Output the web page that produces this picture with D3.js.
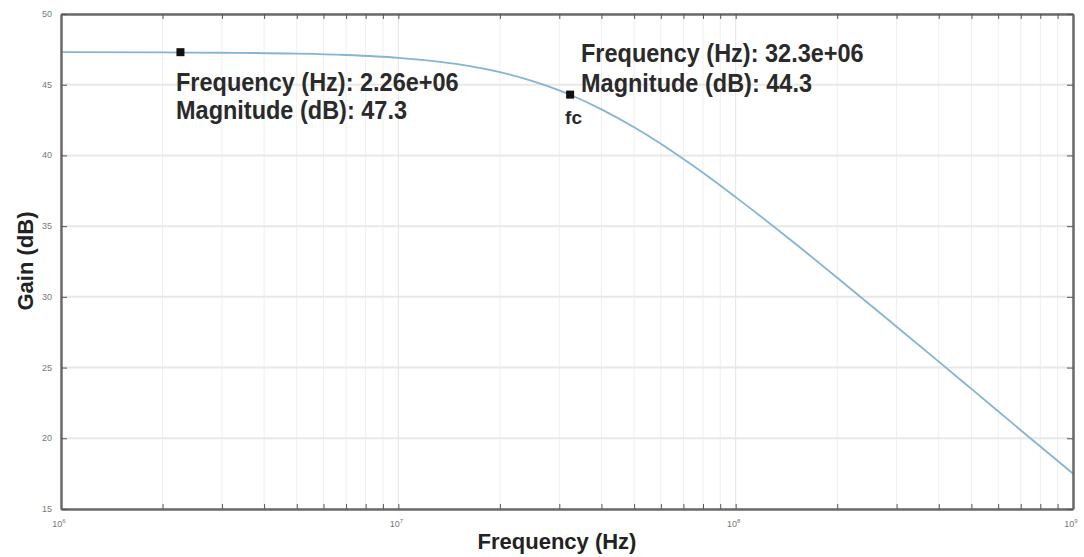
<!DOCTYPE html>
<html>
<head>
<meta charset="utf-8">
<script src="https://cdn.jsdelivr.net/npm/d3@7"></script>
<style>
  body { margin: 0; background: #fff; }
  svg text { font-family: "Liberation Sans", Arial, sans-serif; }
</style>
</head>
<body>
<div id="chart"></div>
<script>
// response (Hz, dB)
var freqs = [1e6, 2e6, 3e6, 5e6, 7e6, 1e7, 1.5e7, 2e7, 2.5e7, 3e7, 3.23e7, 4e7, 5e7, 6e7, 7e7, 8e7, 1e8, 1.5e8, 2e8, 3e8, 4e8, 5e8, 6e8, 7e8, 8e8, 1e9];
var gains = [47.3, 47.28, 47.26, 47.2, 47.1, 46.9, 46.45, 45.89, 45.26, 44.6, 44.29, 43.26, 41.99, 40.82, 39.74, 38.77, 37.05, 33.77, 31.35, 27.89, 25.42, 23.49, 21.91, 20.57, 19.42, 17.5];

var xTicks = [1e6, 1e7, 1e8, 1e9];
var xTickExps = ["6", "7", "8", "9"];
var yTicks = [15, 20, 25, 30, 35, 40, 45, 50];

var tipFreqs = [2.26e6, 32.3e6];
var tipGains = [47.3, 44.3];
var tipLines1 = ["Frequency (Hz): 2.26e+06", "Frequency (Hz): 32.3e+06"];
var tipLines2 = ["Magnitude (dB): 47.3", "Magnitude (dB): 44.3"];

var width = 1084, height = 557;
var margin = {left: 61, right: 11, top: 14, bottom: 48};

var svg = d3.select('#chart').append('svg')
    .attr('width', width)
    .attr('height', height);

var x = d3.scaleLog()
    .domain([1e6, 1e9])
    .range([margin.left, width - margin.right]);

var y = d3.scaleLinear()
    .domain([15, 50])
    .range([height - margin.bottom, margin.top]);

// minor x positions
var minor = [];
for (var d = 1e6; d < 1e9; d *= 10) {
	for (var k = 2; k <= 9; k++) minor.push(d * k);
}

var grid = svg.append('g');
grid.selectAll('line.vminor').data(minor)
    .enter().append('line')
    .attr('x1', function (d) { return x(d); })
    .attr('x2', function (d) { return x(d); })
    .attr('y1', y(15)).attr('y2', y(50))
    .style('stroke', '#efefef').style('stroke-width', 1);
grid.selectAll('line.vmajor').data(xTicks)
    .enter().append('line')
    .attr('x1', function (d) { return x(d); })
    .attr('x2', function (d) { return x(d); })
    .attr('y1', y(15)).attr('y2', y(50))
    .style('stroke', '#e4e4e4').style('stroke-width', 1);
grid.selectAll('line.hmajor').data(yTicks)
    .enter().append('line')
    .attr('x1', x(1e6)).attr('x2', x(1e9))
    .attr('y1', function (d) { return y(d); })
    .attr('y2', function (d) { return y(d); })
    .style('stroke', '#e8e8e8').style('stroke-width', 2);

// curve
var line = d3.line()
    .x(function (d, i) { return x(freqs[i]); })
    .y(function (d) { return y(d); })
    .curve(d3.curveMonotoneX);

svg.append('path')
    .datum(gains)
    .attr('d', line)
    .style('fill', 'none')
    .style('stroke', '#86b4d2')
    .style('stroke-width', 1.8);

// axes: ticks pointing inward, on all four sides
var axBottom = d3.axisBottom(x).tickValues(xTicks.concat(minor)).tickSizeInner(-5).tickSizeOuter(0)
    .tickFormat(function () { return ''; });
var axTop = d3.axisTop(x).tickValues(xTicks.concat(minor)).tickSizeInner(-5).tickSizeOuter(0)
    .tickFormat(function () { return ''; });
var axLeft = d3.axisLeft(y).tickValues(yTicks).tickSizeInner(-6).tickSizeOuter(0)
    .tickFormat(function () { return ''; });
var axRight = d3.axisRight(y).tickValues(yTicks).tickSizeInner(-6).tickSizeOuter(0)
    .tickFormat(function () { return ''; });

function styleAxis(g) {
	g.select('.domain').style('stroke', '#6a6a6a').style('stroke-width', 2.5);
	g.selectAll('.tick line').style('stroke', '#555');
}

svg.append('g').attr('transform', 'translate(0,' + y(15) + ')').call(axBottom).call(styleAxis);
svg.append('g').attr('transform', 'translate(0,' + y(50) + ')').call(axTop).call(styleAxis);
svg.append('g').attr('transform', 'translate(' + x(1e6) + ',0)').call(axLeft).call(styleAxis);
svg.append('g').attr('transform', 'translate(' + x(1e9) + ',0)').call(axRight).call(styleAxis);

// tick labels
svg.selectAll('text.ylab').data(yTicks)
    .enter().append('text')
    .attr('x', x(1e6) - 9)
    .attr('y', function (d) { return y(d) + 3; })
    .attr('text-anchor', 'end')
    .style('font-size', '9px')
    .style('fill', '#777')
    .text(function (d) { return d; });

var xl = svg.selectAll('text.xlab').data(xTicks)
    .enter().append('text')
    .attr('x', function (d) { return x(d) - 2; })
    .attr('y', y(15) + 18)
    .attr('text-anchor', 'middle')
    .style('font-size', '9px')
    .style('fill', '#777');
xl.append('tspan').text('10');
xl.append('tspan').attr('dy', -4).style('font-size', '6px')
    .text(function (d, i) { return xTickExps[i]; });

// axis titles
svg.append('text')
    .attr('x', 557)
    .attr('y', 549)
    .attr('text-anchor', 'middle')
    .style('font-size', '22px').style('font-weight', 'bold').style('fill', '#222')
    .text('Frequency (Hz)');

svg.append('text')
    .attr('transform', 'translate(33,261) rotate(-90)')
    .attr('text-anchor', 'middle')
    .style('font-size', '22px').style('font-weight', 'bold').style('fill', '#222')
    .text('Gain (dB)');

// data tips
svg.selectAll('rect.tip').data(tipFreqs)
    .enter().append('rect')
    .attr('x', function (d) { return x(d) - 4; })
    .attr('y', function (d, i) { return y(tipGains[i]) - 4; })
    .attr('width', 8).attr('height', 8)
    .style('fill', '#111');

var tipPos = [[176, 91, 28], [581, 62, 30]];
tipFreqs.forEach(function (f, i) {
	var p = tipPos[i];
	var g = svg.append('g').attr('transform', 'translate(' + p[0] + ',' + p[1] + ') scale(1,1.12)');
	var t = g.append('text')
	    .style('font-size', '23.5px').style('font-weight', 'bold').style('fill', '#2a2a2a');
	t.append('tspan').attr('x', 0).attr('y', 0).text(tipLines1[i]);
	t.append('tspan').attr('x', 0).attr('y', p[2] / 1.12).text(tipLines2[i]);
});

svg.append('text')
    .attr('x', x(tipFreqs[1]) - 5)
    .attr('y', y(tipGains[1]) + 29)
    .style('font-size', '19px').style('font-weight', 'bold').style('fill', '#2a2a2a')
    .text('fc');
</script>
</body>
</html>
